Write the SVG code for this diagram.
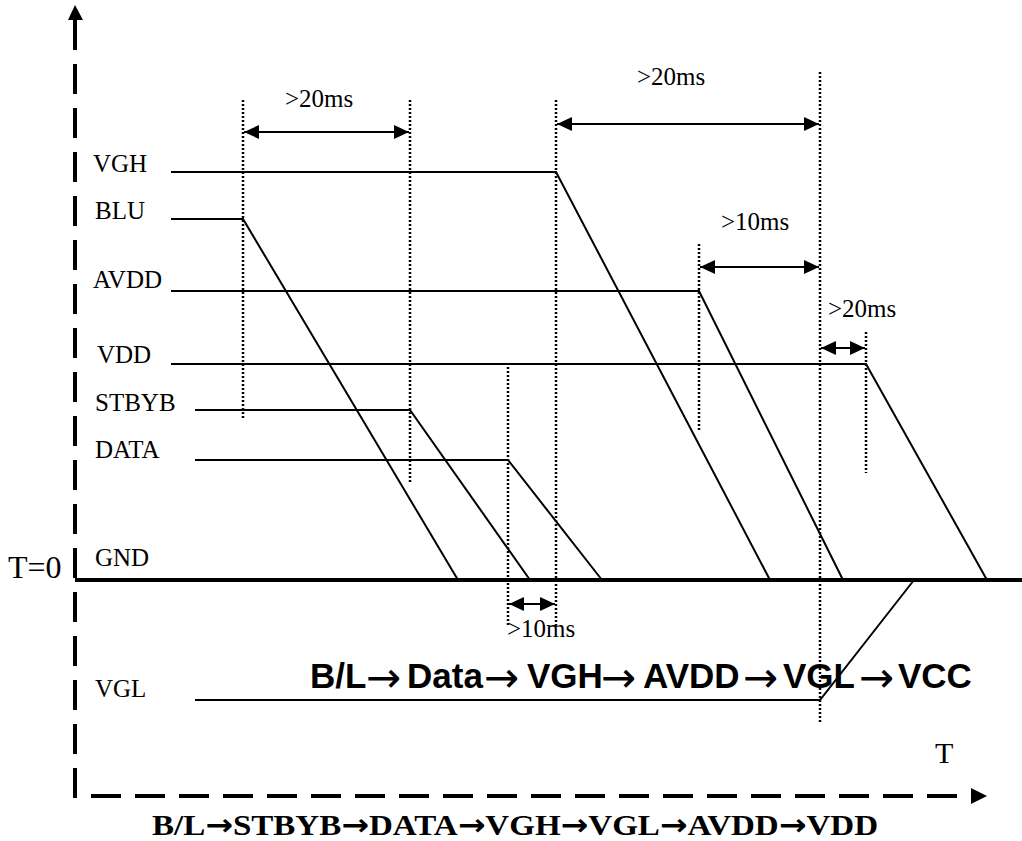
<svg xmlns="http://www.w3.org/2000/svg" width="1022" height="841" viewBox="0 0 1022 841">
<style>
.sig{fill:none;stroke:#000;stroke-width:2}
.gnd{fill:none;stroke:#000;stroke-width:4}
.dot{fill:none;stroke:#000;stroke-width:2.5;stroke-dasharray:2 2}
.dim{fill:none;stroke:#000;stroke-width:2}
.axis{fill:none;stroke:#000;stroke-width:4;stroke-dasharray:30 14}
.lbl{font-family:"Liberation Serif","Times New Roman",serif;font-size:25px;fill:#000}
.big{font-family:"Liberation Sans",Arial,sans-serif;font-weight:bold;font-size:35px;fill:#000}
.arr{font-family:"DejaVu Sans",sans-serif;font-weight:normal;font-size:42px}
.barr{font-family:"DejaVu Sans",sans-serif;font-weight:bold}
</style>
<defs>
<marker id="ah" markerWidth="15" markerHeight="14" refX="15" refY="7" orient="auto-start-reverse" markerUnits="userSpaceOnUse">
<path d="M0,0 L15,7 L0,14 Z" fill="#000"/>
</marker>
</defs>

<g id="axes">
<path class="axis" d="M75,20 L75,796 L971,796"/>
<polygon points="68,20 75,5 83,20" fill="#000"/>
<polygon points="971,788 987,796 971,804" fill="#000"/>
<text class="lbl" x="8" y="578" style="font-size:32px">T=0</text>
<text class="lbl" x="935" y="763" style="font-size:30px">T</text>
</g>

<g id="ground">
<path class="gnd" d="M75,580 L1022,580"/>
<text class="lbl" x="95" y="566">GND</text>
</g>

<g id="sig-vgh">
<text class="lbl" x="93" y="172">VGH</text>
<path class="sig" d="M171,172 L556,172 L770,580"/>
</g>
<g id="sig-blu">
<text class="lbl" x="95" y="219">BLU</text>
<path class="sig" d="M171,219 L243,219 L458,580"/>
</g>
<g id="sig-avdd">
<text class="lbl" x="93" y="288">AVDD</text>
<path class="sig" d="M171,291 L699,291 L843,580"/>
</g>
<g id="sig-vdd">
<text class="lbl" x="97" y="363">VDD</text>
<path class="sig" d="M171,364 L866,364 L987,580"/>
</g>
<g id="sig-stbyb">
<text class="lbl" x="95" y="411">STBYB</text>
<path class="sig" d="M195,410 L410,410 L530,580"/>
</g>
<g id="sig-data">
<text class="lbl" x="95" y="458">DATA</text>
<path class="sig" d="M195,460 L508,460 L602,580"/>
</g>
<g id="sig-vgl">
<text class="lbl" x="95" y="697">VGL</text>
<path class="sig" d="M195,700 L820,700 L914,580"/>
</g>

<g id="guides">
<path class="dot" d="M243,100 L243,420"/>
<path class="dot" d="M410,100 L410,482"/>
<path class="dot" d="M556,100 L556,627"/>
<path class="dot" d="M508,363 L508,627"/>
<path class="dot" d="M699,244 L699,432"/>
<path class="dot" d="M820,72 L820,722"/>
<path class="dot" d="M866,332 L866,473"/>
</g>

<g id="connectors">
<path class="dim" d="M244,132 L409,132" marker-start="url(#ah)" marker-end="url(#ah)"/>
<path class="dim" d="M557,124 L819,124" marker-start="url(#ah)" marker-end="url(#ah)"/>
<path class="dim" d="M700,267 L819,267" marker-start="url(#ah)" marker-end="url(#ah)"/>
<path class="dim" d="M821,348 L865,348" marker-start="url(#ah)" marker-end="url(#ah)"/>
<path class="dim" d="M509,604 L555,604" marker-start="url(#ah)" marker-end="url(#ah)"/>
</g>

<g id="dim-labels">
<text class="lbl" x="285" y="107">&gt;20ms</text>
<text class="lbl" x="637" y="85">&gt;20ms</text>
<text class="lbl" x="721" y="230">&gt;10ms</text>
<text class="lbl" x="828" y="317">&gt;20ms</text>
<text class="lbl" x="507" y="637">&gt;10ms</text>
</g>

<g id="seq-top">
<text class="big" y="688"><tspan x="310">B/L</tspan><tspan class="arr" x="366" y="692">→</tspan><tspan x="407" y="688">Data</tspan><tspan class="arr" x="484" y="692">→</tspan><tspan x="527" y="688">VGH</tspan><tspan class="arr" x="601" y="692">→</tspan><tspan x="643" y="688">AVDD</tspan><tspan class="arr" x="743" y="692">→</tspan><tspan x="783" y="688">VGL</tspan><tspan class="arr" x="859" y="692">→</tspan><tspan x="898" y="688">VCC</tspan></text>
</g>

<g id="seq-bottom">
<text class="lbl" x="152" y="835" style="font-weight:bold;font-size:30px" textLength="726" lengthAdjust="spacingAndGlyphs">B/L<tspan class="barr">→</tspan>STBYB<tspan class="barr">→</tspan>DATA<tspan class="barr">→</tspan>VGH<tspan class="barr">→</tspan>VGL<tspan class="barr">→</tspan>AVDD<tspan class="barr">→</tspan>VDD</text>
</g>
</svg>
